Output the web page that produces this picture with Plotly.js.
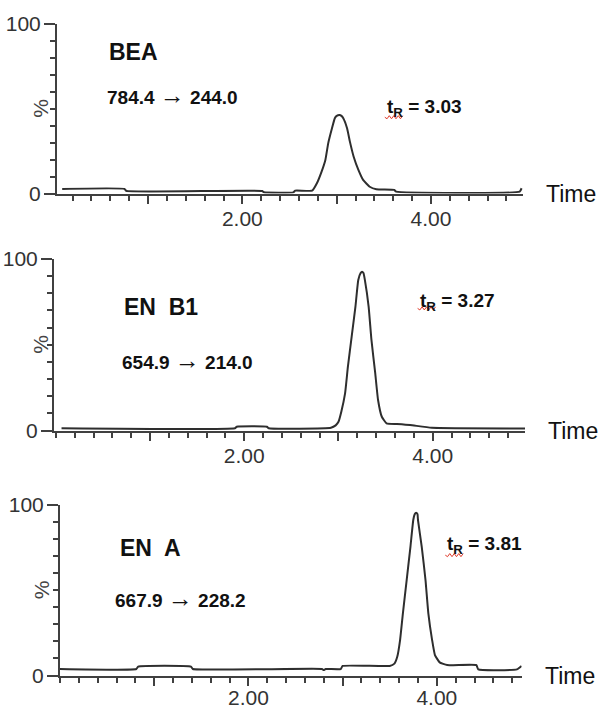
<!DOCTYPE html>
<html>
<head>
<meta charset="utf-8">
<script src="https://cdn.plot.ly/plotly-3.0.1.min.js"></script>
<style>html,body{margin:0;padding:0;background:#fff;}#chart{width:602px;height:708px;}</style>
</head>
<body>
<div id="chart"></div>
<script>
// ---- Data (retention time in min, relative intensity in %) ----
const beaTime = [0.09, 0.75, 0.77, 2.21, 2.23, 2.54, 2.56, 2.74, 2.79, 2.84, 2.88, 2.91, 2.95, 2.98, 3.00, 3.03, 3.05, 3.07, 3.11, 3.14, 3.18, 3.23, 3.28, 3.35, 3.42, 3.61, 3.63, 4.94, 4.96];
const beaInt  = [2.7, 2.7, 1.5, 1.5, 0.7, 0.7, 1.7, 1.7, 6.0, 12.9, 19.8, 29.6, 38.5, 44.4, 45.8, 46.3, 45.8, 44.4, 38.5, 30.6, 21.7, 13.9, 8.0, 4.0, 2.5, 2.1, 1.1, 1.1, 3.1];

const enb1Time = [0.06, 1.90, 1.92, 2.24, 2.26, 2.92, 2.97, 3.00, 3.03, 3.07, 3.10, 3.14, 3.18, 3.21, 3.235, 3.25, 3.265, 3.28, 3.32, 3.35, 3.39, 3.42, 3.46, 3.51, 3.62, 3.76, 3.99, 4.98];
const enb1Int  = [1.3, 1.3, 2.2, 2.2, 1.3, 1.6, 3.0, 5.1, 11.0, 21.7, 37.2, 54.7, 72.2, 87.8, 91.8, 92.6, 91.8, 87.8, 72.2, 52.8, 33.4, 17.8, 8.0, 4.2, 3.8, 3.2, 1.6, 1.2];

const enaTime = [0.00, 0.81, 0.83, 1.39, 1.41, 2.78, 2.80, 2.82, 2.98, 3.00, 3.50, 3.55, 3.58, 3.61, 3.64, 3.68, 3.72, 3.75, 3.765, 3.78, 3.795, 3.80, 3.84, 3.88, 3.91, 3.95, 3.98, 4.03, 4.11, 4.42, 4.44, 4.85, 4.90];
const enaInt  = [3.8, 3.8, 5.2, 5.2, 3.8, 3.8, 3.2, 3.8, 3.8, 5.6, 5.6, 7.0, 11.0, 20.8, 36.5, 56.0, 75.5, 91.2, 94.6, 95.5, 94.6, 91.2, 75.5, 56.0, 36.5, 20.8, 12.0, 7.7, 6.1, 6.1, 3.6, 3.6, 5.6];

const compounds   = ["BEA", "EN  B1", "EN  A"];
const precursors  = ["784.4", "654.9", "667.9"];
const products    = ["244.0", "214.0", "228.2"];
const retTimes    = ["3.03", "3.27", "3.81"];
const xTickVals   = [1, 2, 3, 4];
const xTickText   = ["", "2.00", "", "4.00"];
const yTickVals   = [0, 100];
const yTickText   = ["0", "100"];

// ---- Layout helpers ----
const FONT = "Liberation Sans, Arial, Helvetica, sans-serif";
const AX = "#404040";
const series = [[beaTime, beaInt], [enb1Time, enb1Int], [enaTime, enaInt]];
const xRanges  = [[0.035, 4.975], [-0.02, 4.98], [0.0, 4.90]];
const xDomains = [[57/602, 523/602], [54/602, 525/602], [60/602, 521.6/602]];
const yDomains = [[1-193.5/708, 1-24/708], [1-430.5/708, 1-259/708], [1-675.5/708, 1-505/708]];
const xStandoff = [-3, -3, -6];
const labelPos = [
  {name: [0.566, 83.2], tr: [0.545, 58.1], rt: [3.51, 50.7], sq: [3.51, 3.70, 45.0]},
  {name: [0.70, 72.3],  tr: [0.68, 41.1],  rt: [3.84, 75.2], sq: [3.84, 4.03, 71.2]},
  {name: [0.62, 74.5],  tr: [0.565, 45.2], rt: [4.09, 76.5], sq: [4.09, 4.28, 70.6]}
];

function zigzag(x0, x1, y, amp, n) {
  let d = "M " + x0 + "," + y;
  for (let i = 1; i <= n; i++) {
    const x = x0 + (x1 - x0) * i / n;
    d += " L " + x.toFixed(4) + "," + (y + (i % 2 ? -amp : amp)).toFixed(3);
  }
  return d;
}

const traces = [];
const layout = {
  width: 602, height: 708,
  margin: {l: 0, r: 0, t: 0, b: 0},
  paper_bgcolor: "#ffffff", plot_bgcolor: "rgba(0,0,0,0)",
  showlegend: false,
  annotations: [], shapes: []
};

for (let i = 0; i < 3; i++) {
  const xa = "xaxis" + (i === 0 ? "" : i + 1);
  const ya = "yaxis" + (i === 0 ? "" : i + 1);
  const xr = "x" + (i === 0 ? "" : i + 1);
  const yr = "y" + (i === 0 ? "" : i + 1);
  traces.push({
    type: "scatter", mode: "lines",
    x: series[i][0], y: series[i][1],
    xaxis: xr, yaxis: yr,
    line: {color: "#2e2e2e", width: 2, shape: "spline", smoothing: 0.4},
    hoverinfo: "skip"
  });
  layout[xa] = {
    domain: xDomains[i], range: xRanges[i], anchor: yr,
    showline: true, linecolor: AX, linewidth: 2,
    ticks: "outside", ticklen: 8, tickwidth: 2, tickcolor: AX,
    tickmode: "array", tickvals: xTickVals, ticktext: xTickText,
    ticklabelstandoff: xStandoff[i],
    tickfont: {family: FONT, size: 21, color: "#333333"},
    minor: {tickmode: "linear", tick0: 0, dtick: 0.2, ticklen: 5, tickwidth: 2, tickcolor: AX, showgrid: false},
    showgrid: false, zeroline: false, fixedrange: true
  };
  layout[ya] = {
    domain: yDomains[i], range: [0, 100], anchor: xr,
    showline: true, linecolor: AX, linewidth: 2,
    ticks: "outside", ticklen: 11, tickwidth: 2, tickcolor: AX,
    tickmode: "array", tickvals: yTickVals, ticktext: yTickText,
    ticklabelstandoff: -1,
    tickfont: {family: FONT, size: 21, color: "#333333"},
    minor: {tickmode: "linear", tick0: 0, dtick: 10, ticklen: 5, tickwidth: 2, tickcolor: AX, showgrid: false},
    showgrid: false, zeroline: false, fixedrange: true
  };
  const p = labelPos[i];
  layout.annotations.push(
    {xref: xr, yref: yr, x: p.name[0], y: p.name[1], xanchor: "left", yanchor: "middle", showarrow: false,
     text: "<b>" + compounds[i] + "</b>", font: {family: FONT, size: 23, color: "#111111"}},
    {xref: xr, yref: yr, x: p.tr[0], y: p.tr[1], xanchor: "left", yanchor: "middle", showarrow: false,
     text: "<b>" + precursors[i] + " <span style=\"font-size:25px\">\u2192</span> " + products[i] + "</b>",
     font: {family: FONT, size: 19, color: "#111111"}},
    {xref: xr, yref: yr, x: p.rt[0], y: p.rt[1], xanchor: "left", yanchor: "middle", showarrow: false,
     text: "<b>t<sub>R</sub> = " + retTimes[i] + "</b>", font: {family: FONT, size: 19, color: "#111111"}},
    {xref: "paper", yref: yr, x: 41/602, y: 50, xanchor: "center", yanchor: "middle", showarrow: false,
     textangle: -90, text: "%", font: {family: FONT, size: 21, color: "#444444"}},
    {xref: xr + " domain", yref: yr, x: 1, y: 0, xanchor: "left", yanchor: "middle", xshift: 21, showarrow: false,
     text: "Time", font: {family: FONT, size: 23, color: "#111111"}}
  );
  layout.shapes.push({
    type: "path", xref: xr, yref: yr,
    path: zigzag(p.sq[0], p.sq[1], p.sq[2], 0.9, 8),
    line: {color: "#e03a2a", width: 1}
  });
}

Plotly.newPlot("chart", traces, layout, {staticPlot: true, displayModeBar: false});
</script>
</body>
</html>
